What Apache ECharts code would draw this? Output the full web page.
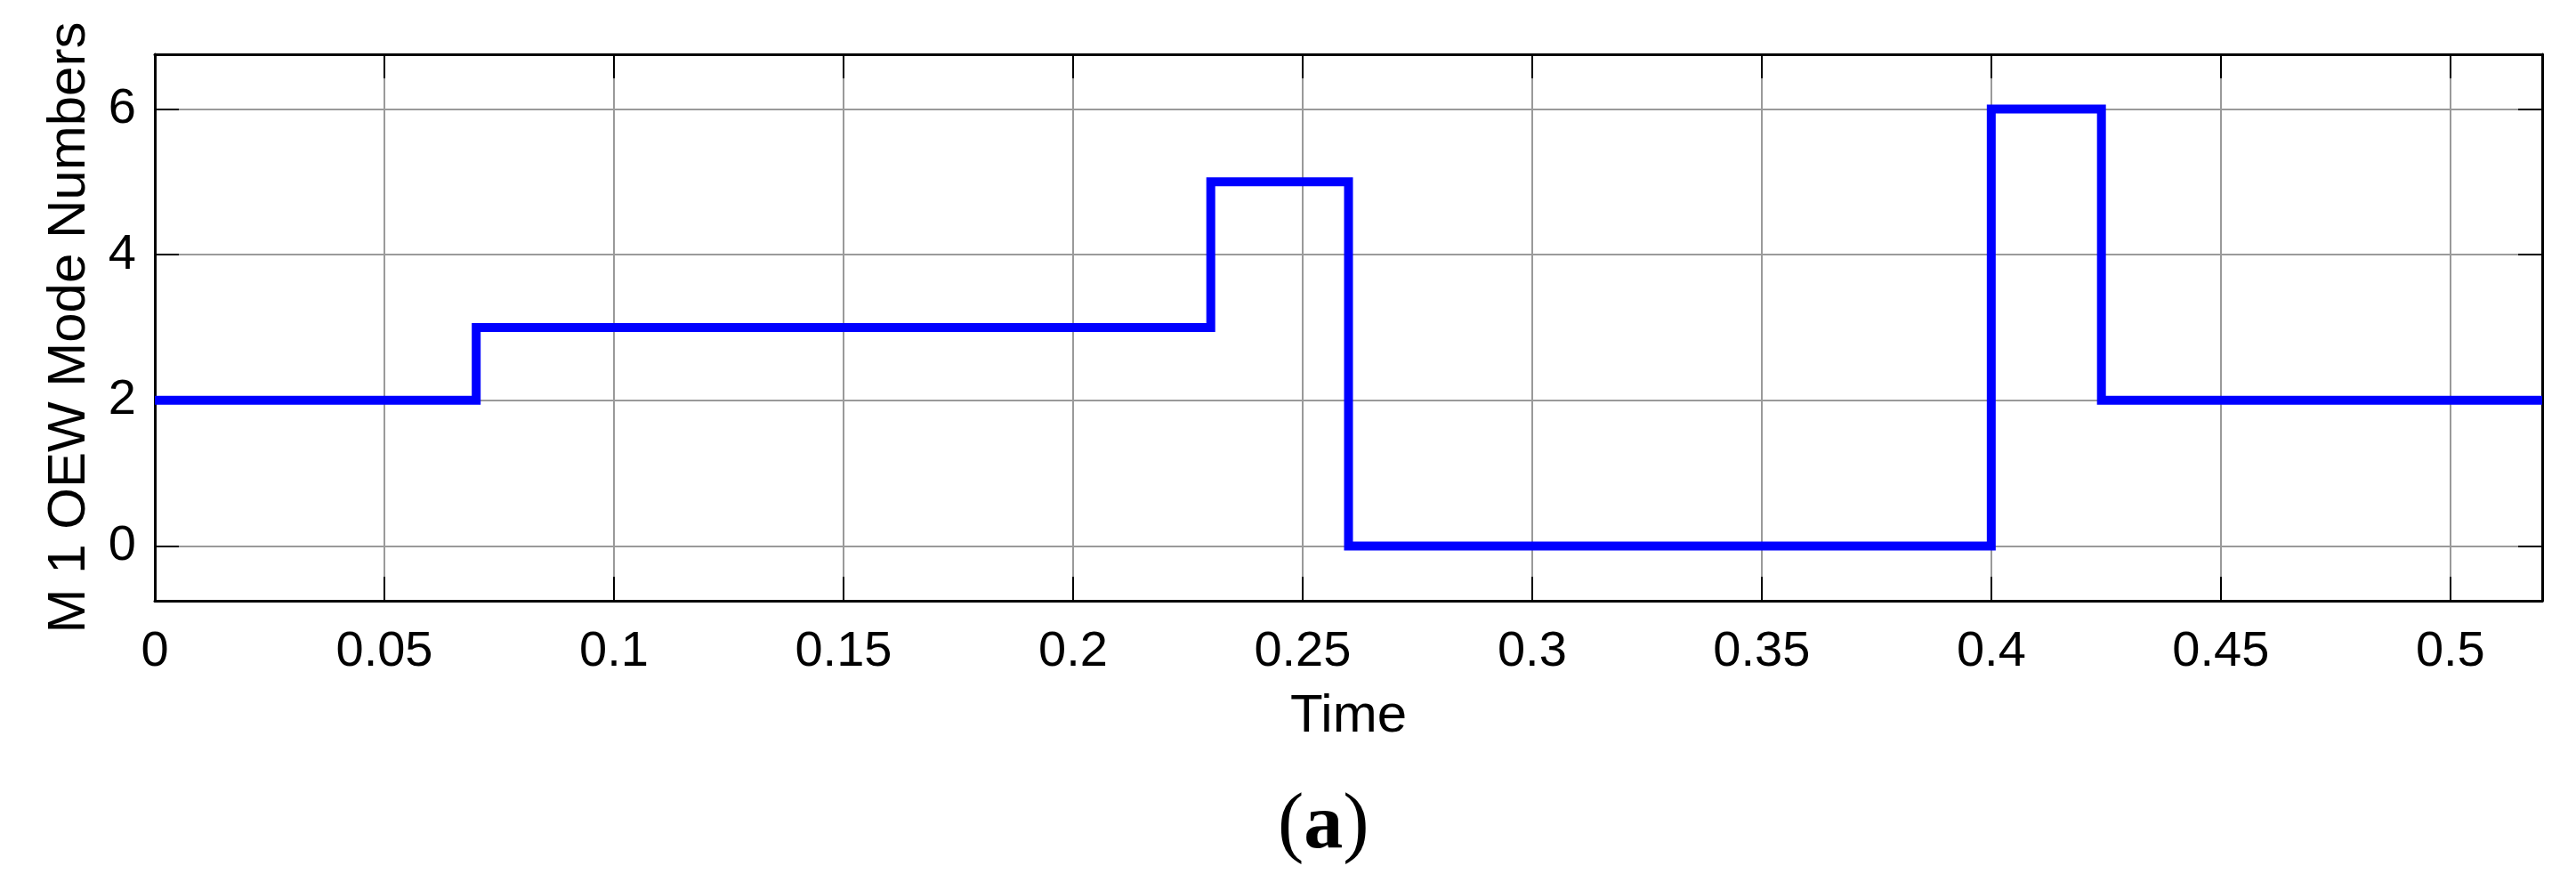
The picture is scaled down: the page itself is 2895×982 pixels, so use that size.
<!DOCTYPE html>
<html>
<head>
<meta charset="utf-8">
<script src="https://cdn.jsdelivr.net/npm/echarts@6/dist/echarts.min.js"></script>
<style>
html,body{margin:0;padding:0;background:#fff;}
#chart{width:2895px;height:982px;}
</style>
</head>
<body>
<div id="chart"></div>
<script>
// Data: switching times (s) and mode numbers held from each time onward
const times = [0, 0.07, 0.23, 0.26, 0.40, 0.424, 0.52];
const modes = [2, 3, 5, 0, 6, 2, 2];
const xTicks = [0, 0.05, 0.1, 0.15, 0.2, 0.25, 0.3, 0.35, 0.4, 0.45, 0.5];
const yTicks = [0, 2, 4, 6];
const xRange = [0, 0.52];
const yRange = [-0.75, 6.75];
const xTitle = 'Time';
const yTitle = 'M 1 OEW Mode Numbers';
const panelLabel = 'a';

const FONT = '"Liberation Sans", Arial, sans-serif';
const seriesData = times.map((t, i) => [t, modes[i]]);

const chart = echarts.init(document.getElementById('chart'));

function fmt(v) {
  return String(Math.round(v * 1000) / 1000);
}

const baseAxisLine = { show: true, onZero: false, lineStyle: { color: '#000', width: 3 } };
const tickStyle = { show: true, inside: true, length: 27, lineStyle: { color: '#000', width: 2 } };

chart.setOption({
  animation: false,
  backgroundColor: '#fff',
  grid: { left: 174, right: 38, top: 61, bottom: 307, containLabel: false },
  xAxis: [
    {
      type: 'value', min: xRange[0], max: xRange[1], position: 'bottom',
      name: xTitle, nameLocation: 'middle', nameGap: 100,
      nameTextStyle: { fontFamily: FONT, fontSize: 60, color: '#000' },
      axisLine: baseAxisLine,
      axisTick: Object.assign({}, tickStyle, { customValues: xTicks }),
      axisLabel: { customValues: xTicks, formatter: fmt, fontFamily: FONT, fontSize: 56, color: '#000', margin: 30 },
      splitLine: { show: true, lineStyle: { color: '#9a9a9a', width: 2 } }
    },
    {
      type: 'value', min: xRange[0], max: xRange[1], position: 'top',
      axisLine: baseAxisLine,
      axisTick: Object.assign({}, tickStyle, { customValues: xTicks }),
      axisLabel: { show: false, customValues: xTicks },
      splitLine: { show: false }
    }
  ],
  yAxis: [
    {
      type: 'value', min: yRange[0], max: yRange[1], position: 'left',
      name: yTitle, nameLocation: 'middle', nameGap: 66, nameRotate: 90,
      nameTextStyle: { fontFamily: FONT, fontSize: 60, color: '#000' },
      axisLine: baseAxisLine,
      axisTick: Object.assign({}, tickStyle, { customValues: yTicks }),
      axisLabel: { customValues: yTicks, formatter: fmt, fontFamily: FONT, fontSize: 56, color: '#000', margin: 21 },
      splitLine: { show: true, lineStyle: { color: '#9a9a9a', width: 2 } }
    },
    {
      type: 'value', min: yRange[0], max: yRange[1], position: 'right',
      axisLine: baseAxisLine,
      axisTick: Object.assign({}, tickStyle, { customValues: yTicks }),
      axisLabel: { show: false, customValues: yTicks },
      splitLine: { show: false }
    }
  ],
  graphic: [
    {
      type: 'text', left: 1436, top: 885, z: 10,
      style: {
        text: '{p|(}{b|' + panelLabel + '}{p|)}',
        rich: {
          p: { fontFamily: '"Liberation Serif", "Times New Roman", serif', fontSize: 88, fontWeight: 'normal', fill: '#000' },
          b: { fontFamily: '"Liberation Serif", "Times New Roman", serif', fontSize: 88, fontWeight: 'bold', fill: '#000' }
        }
      }
    }
  ],
  series: [
    {
      type: 'line', xAxisIndex: 0, yAxisIndex: 0,
      data: seriesData, step: 'end', showSymbol: false, symbol: 'none',
      lineStyle: { color: '#0000ff', width: 10, join: 'miter' },
      clip: true, z: 5
    }
  ]
});
</script>
</body>
</html>
